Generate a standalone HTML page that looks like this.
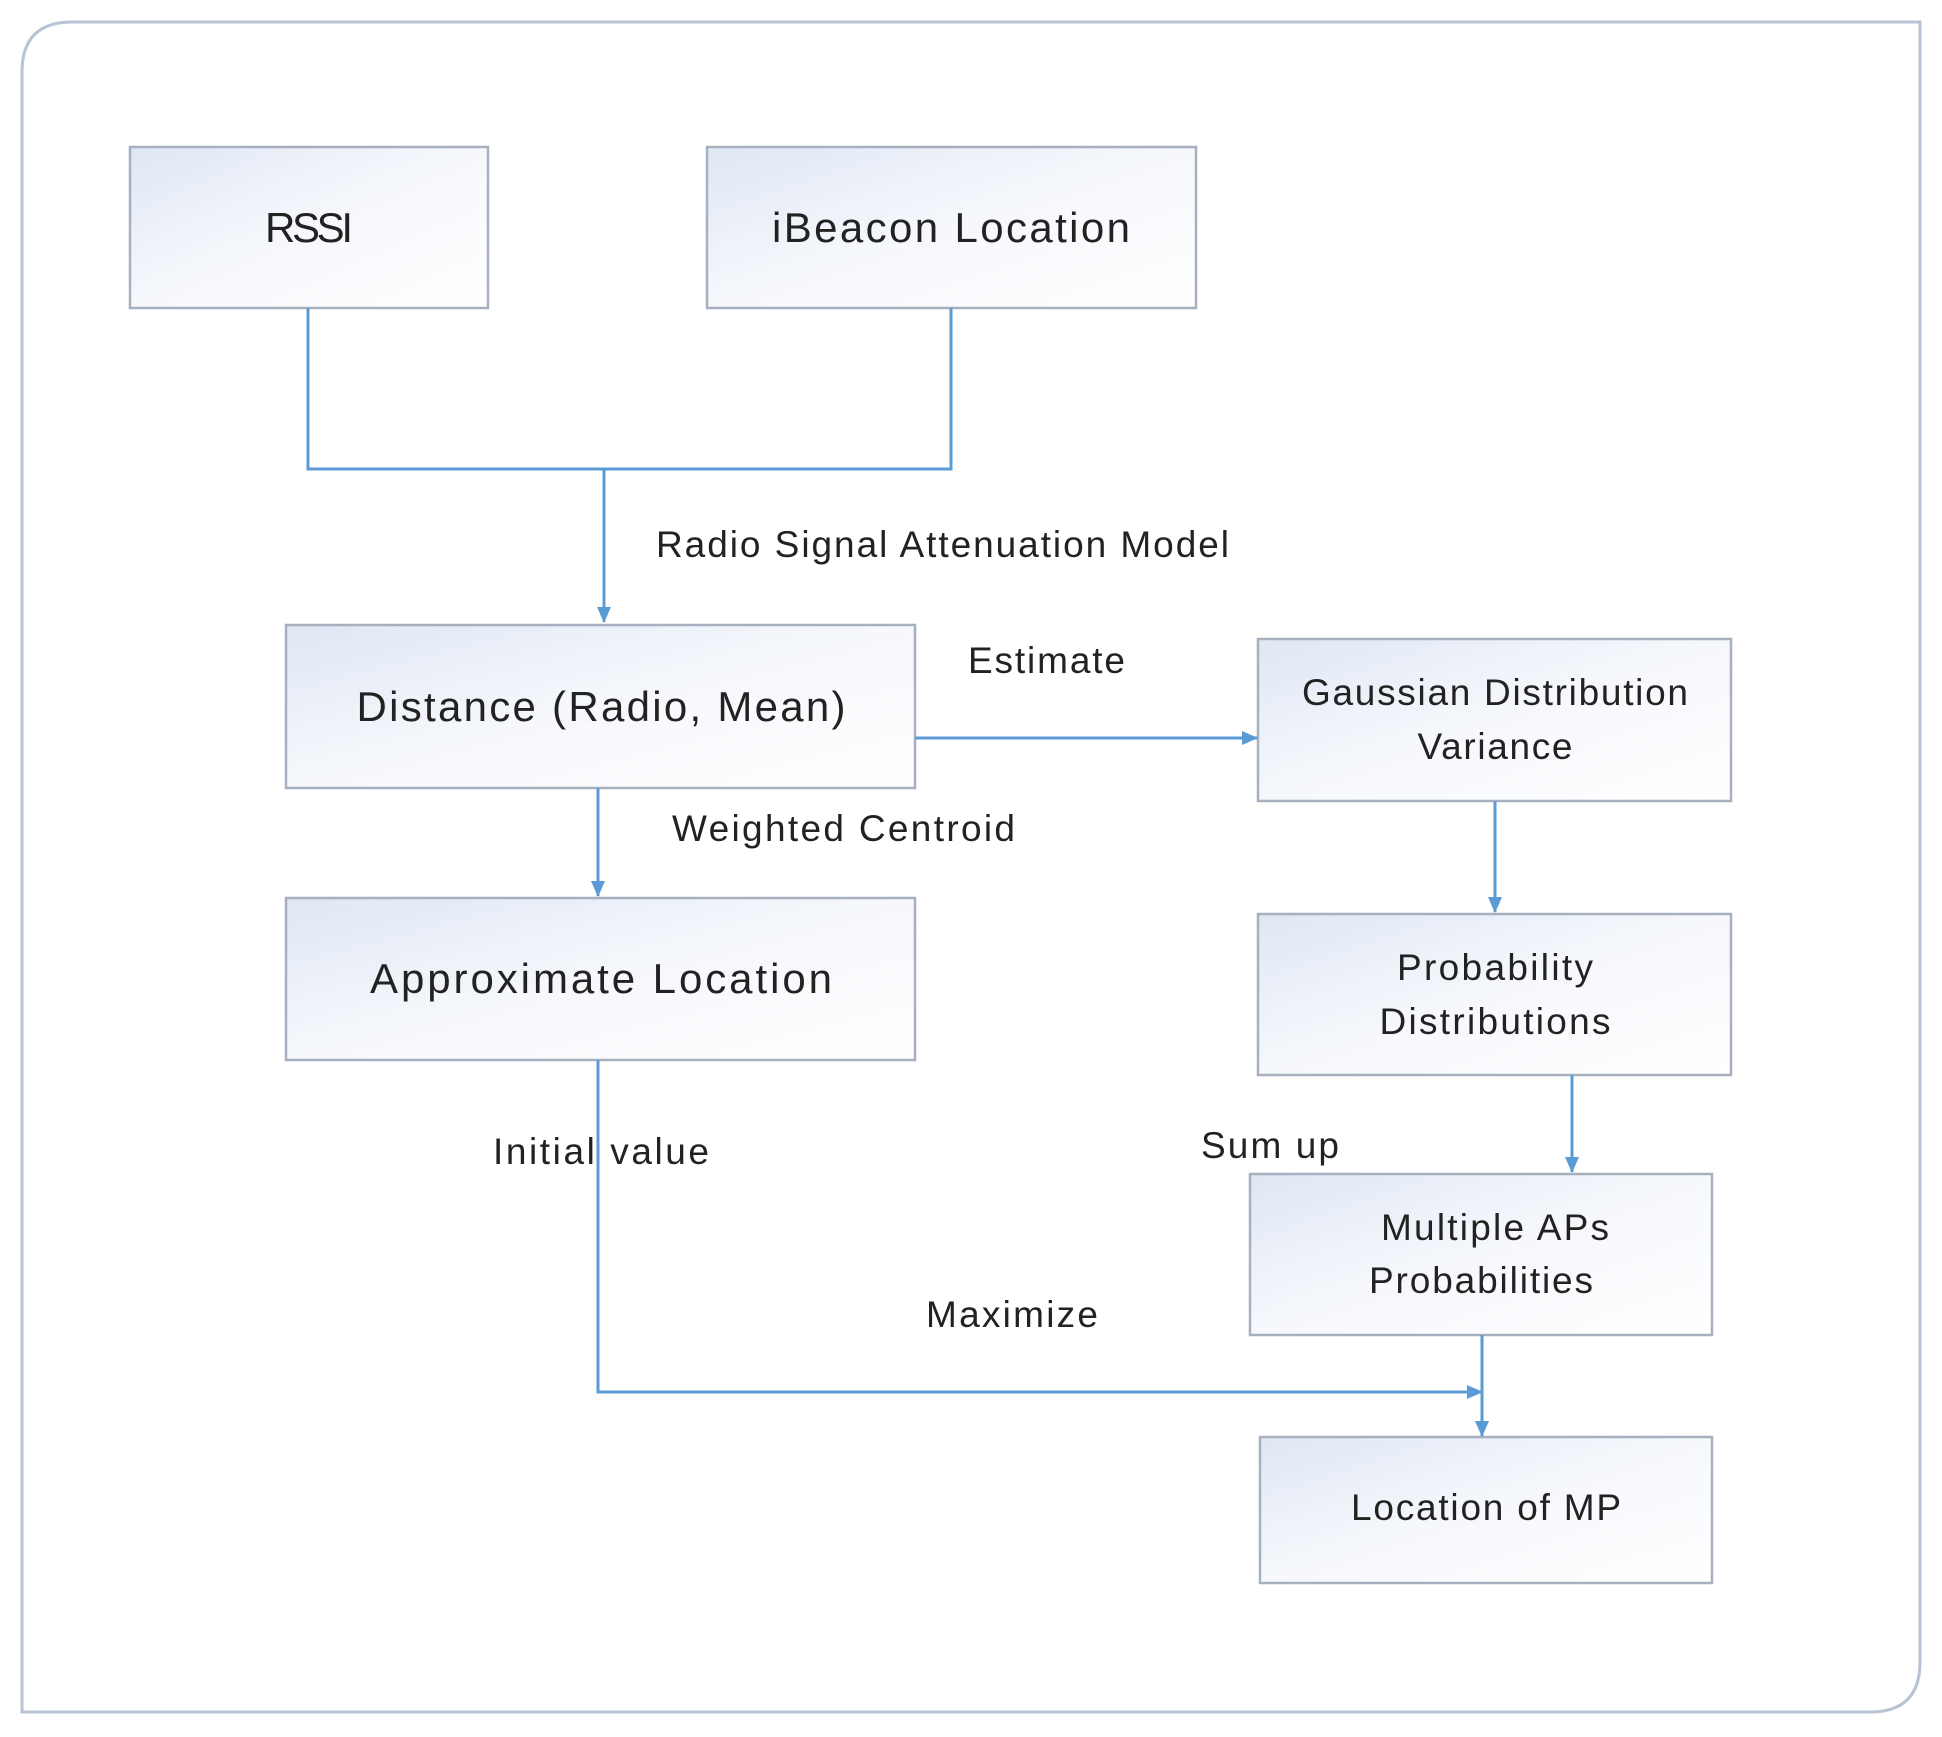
<!DOCTYPE html>
<html><head><meta charset="utf-8"><style>html,body{margin:0;padding:0;background:#fff}</style></head>
<body>
<svg width="1942" height="1732" viewBox="0 0 1942 1732" xmlns="http://www.w3.org/2000/svg" font-family="Liberation Sans, sans-serif" fill="#222">
<defs>
<linearGradient id="g" x1="0" y1="0" x2="1" y2="1">
<stop offset="0" stop-color="#dfe7f4"/><stop offset="0.5" stop-color="#f6f8fc"/><stop offset="1" stop-color="#ffffff"/>
</linearGradient>
<marker id="a" markerWidth="16" markerHeight="14" refX="15" refY="7" orient="auto" markerUnits="userSpaceOnUse" viewBox="0 0 16 14">
<path d="M0,0 L16,7 L0,14 z" fill="#5b9bd5"/>
</marker>
</defs>
<path d="M72,22 H1920 V1662 Q1920,1712 1870,1712 H22 V72 Q22,22 72,22 Z" fill="#fff" stroke="#b8c4d4" stroke-width="3"/>
<g stroke="#a7b0bf" stroke-width="2.5" fill="url(#g)">
<rect x="130" y="147" width="358" height="161"/>
<rect x="707" y="147" width="489" height="161"/>
<rect x="286" y="625" width="629" height="163"/>
<rect x="1258" y="639" width="473" height="162"/>
<rect x="286" y="898" width="629" height="162"/>
<rect x="1258" y="914" width="473" height="161"/>
<rect x="1250" y="1174" width="462" height="161"/>
<rect x="1260" y="1437" width="452" height="146"/>
</g>
<g stroke="#5b9bd5" stroke-width="3" fill="none">
<path d="M308,308 V469 H951 V308"/>
<path d="M604,469 V622" marker-end="url(#a)"/>
<path d="M915,738 H1257" marker-end="url(#a)"/>
<path d="M598,788 V896" marker-end="url(#a)"/>
<path d="M1495,801 V912" marker-end="url(#a)"/>
<path d="M1572,1075 V1172" marker-end="url(#a)"/>
<path d="M598,1060 V1392 H1482" marker-end="url(#a)"/>
<path d="M1482,1335 V1436" marker-end="url(#a)"/>
</g>
<g font-size="42" text-anchor="middle">
<text x="309" y="242" textLength="88">RSSI</text>
<text x="951" y="242" textLength="358">iBeacon Location</text>
<text x="601" y="721" textLength="489">Distance (Radio, Mean)</text>
<text x="601" y="993" textLength="462">Approximate Location</text>
</g>
<g font-size="37" text-anchor="middle">
<text x="1495" y="705" textLength="386">Gaussian Distribution</text>
<text x="1495" y="759" textLength="155">Variance</text>
<text x="1495" y="980" textLength="196">Probability</text>
<text x="1495" y="1034" textLength="231">Distributions</text>
<text x="1495" y="1240" textLength="228">Multiple APs</text>
<text x="1481" y="1293" textLength="224">Probabilities</text>
<text x="1486" y="1520" textLength="270">Location of MP</text>
</g>
<g font-size="37">
<text x="656" y="557" textLength="573">Radio Signal Attenuation Model</text>
<text x="968" y="673" textLength="157">Estimate</text>
<text x="672" y="841" textLength="343">Weighted Centroid</text>
<text x="493" y="1164" textLength="216">Initial  value</text>
<text x="1201" y="1158" textLength="138">Sum up</text>
<text x="926" y="1327" textLength="172">Maximize</text>
</g>
</svg>
</body></html>
